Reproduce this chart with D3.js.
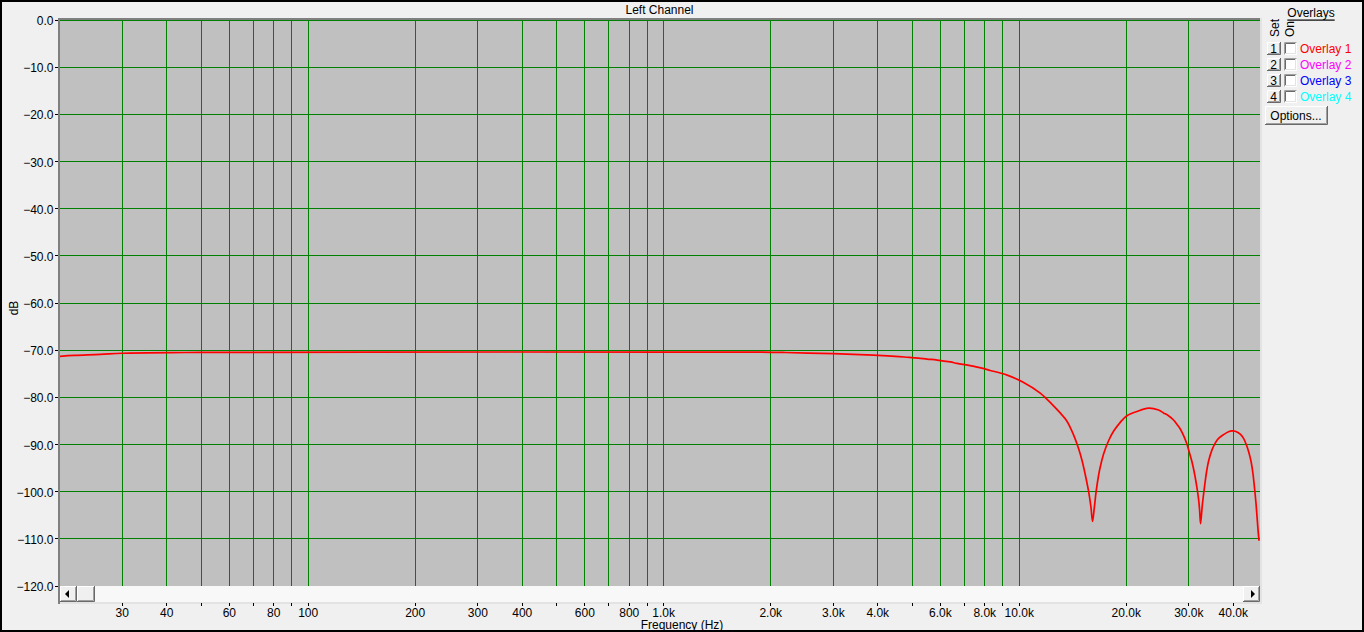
<!DOCTYPE html>
<html>
<head>
<meta charset="utf-8">
<script src="https://cdn.jsdelivr.net/npm/d3@7"></script>
<style>
  html, body { margin: 0; padding: 0; background: #f0f0f0; }
  svg { display: block; }
  text { font-family: "Liberation Sans", Arial, sans-serif; font-size: 12px; fill: #000; }
</style>
</head>
<body>
<svg id="chart" width="1364" height="632"></svg>
<script>
// ---- data ----
const freqHz = [20, 22, 26, 30, 45, 70, 150, 1000, 1800, 2200, 3000, 3570, 4010, 4480, 4840, 5200, 5510, 5880, 6400, 6690, 7420, 8290, 9250, 10260, 11460, 11960, 12490, 13040, 13610, 14210, 14680, 15010, 15330, 15660, 15910, 16080, 16260, 16470, 16830, 17270, 17840, 18420, 19240, 20090, 21430, 23110, 24660, 25460, 26300, 27170, 27760, 28380, 29000, 29630, 30130, 30600, 30940, 31270, 31610, 31950, 32160, 32370, 32720, 33000, 33370, 33730, 34100, 34830, 35590, 36370, 37560, 38800, 39660, 40520, 41860, 42760, 43520, 44180, 44860, 45450, 45920, 46340, 46650, 46950, 47260];
const levelDb = [-71.3, -71.1, -70.9, -70.65, -70.5, -70.45, -70.4, -70.4, -70.4, -70.5, -70.75, -70.95, -71.1, -71.3, -71.5, -71.7, -71.9, -72.1, -72.5, -72.8, -73.4, -74.3, -75.3, -76.8, -79.1, -80.4, -81.8, -83.3, -85.0, -87.9, -90.8, -93.3, -96.3, -99.8, -103.2, -106.3, -103.5, -99.8, -95.4, -92.0, -89.2, -87.2, -85.3, -83.9, -83.0, -82.3, -82.7, -83.3, -83.9, -84.8, -85.7, -86.7, -88.1, -89.9, -91.8, -93.6, -95.2, -97.0, -99.1, -101.6, -103.8, -106.8, -103.0, -100.6, -97.7, -95.3, -93.5, -91.2, -89.7, -88.7, -87.9, -87.3, -87.1, -87.2, -87.8, -88.7, -90.0, -91.5, -93.5, -96.2, -99.3, -102.4, -105.2, -108.0, -110.4];

const yTickValues = [0, -10, -20, -30, -40, -50, -60, -70, -80, -90, -100, -110, -120];
const xGridFreqs = [30, 40, 50, 60, 70, 80, 90, 100, 200, 300, 400, 500, 600, 700, 800, 900, 1000, 2000, 3000, 4000, 5000, 6000, 7000, 8000, 9000, 10000, 20000, 30000, 40000];
const xLabelFreqs = [30, 40, 60, 80, 100, 200, 300, 400, 600, 800, 1000, 2000, 3000, 4000, 6000, 8000, 10000, 20000, 30000, 40000];
const xLabelTexts = ["30", "40", "60", "80", "100", "200", "300", "400", "600", "800", "1.0k", "2.0k", "3.0k", "4.0k", "6.0k", "8.0k", "10.0k", "20.0k", "30.0k", "40.0k"];

const overlayNames = ["Overlay 1", "Overlay 2", "Overlay 3", "Overlay 4"];
const overlayColors = ["#ff0000", "#ff00ff", "#0000ff", "#00ffff"];
const overlaySetLabels = ["1", "2", "3", "4"];

const titleText = "Left Channel";
const xAxisTitle = "Frequency (Hz)";
const yAxisTitle = "dB";

// ---- layout ----
const svg = d3.select("#chart");
const W = 1364, H = 632;
const plotL = 60, plotR = 1260, plotT = 20, plotB = 586;

const x = d3.scaleLog().domain([20, 48000]).range([59.7, 1261.4]);
const y = d3.scaleLinear().domain([-120, 0]).range([586, 20]);
const px = v => Math.floor(v) + 0.5;

// outer border
svg.append("rect").attr("x", 1).attr("y", 1).attr("width", W - 2).attr("height", H - 2)
  .attr("fill", "#f0f0f0").attr("stroke", "#000").attr("stroke-width", 2);

// title
svg.append("text").attr("x", 659.5).attr("y", 10).attr("text-anchor", "middle")
  .attr("dominant-baseline", "central").text(titleText);

// plot frame (dark top/left edge)
svg.append("rect").attr("x", 58).attr("y", 18).attr("width", plotR - 58).attr("height", 2).attr("fill", "#808080");
svg.append("rect").attr("x", 58).attr("y", 18).attr("width", 2).attr("height", 604 - 18).attr("fill", "#808080");
// light right/bottom edge
svg.append("rect").attr("x", plotR).attr("y", 18).attr("width", 2).attr("height", 604 - 18).attr("fill", "#e3e3e3");
svg.append("rect").attr("x", 60).attr("y", 602).attr("width", plotR - 58).attr("height", 2).attr("fill", "#e3e3e3");

// plot background
svg.append("rect").attr("x", plotL).attr("y", plotT).attr("width", plotR - plotL).attr("height", plotB - plotT)
  .attr("fill", "#c0c0c0");

// grid
const grid = svg.append("g");
grid.selectAll("line.h").data(yTickValues.filter(v => v > -120)).enter().append("line")
  .attr("x1", plotL).attr("x2", plotR)
  .attr("y1", d => px(y(d))).attr("y2", d => px(y(d)))
  .attr("stroke", "#008000").attr("stroke-width", 1);
grid.selectAll("line.v").data(xGridFreqs).enter().append("line")
  .attr("x1", d => px(x(d))).attr("x2", d => px(x(d)))
  .attr("y1", plotT).attr("y2", plotB)
  .attr("stroke", "#008000").attr("stroke-width", 1);

// curve
svg.append("clipPath").attr("id", "clip").append("rect")
  .attr("x", plotL).attr("y", plotT).attr("width", plotR - plotL).attr("height", plotB - plotT);
const pts = freqHz.map((f, i) => [f, levelDb[i]]);
const line = d3.line().x(d => x(d[0])).y(d => y(d[1])).curve(d3.curveCatmullRom.alpha(0.5));
svg.append("path").attr("clip-path", "url(#clip)").datum(pts).attr("d", line)
  .attr("fill", "none").attr("stroke", "#ff0000").attr("stroke-width", 1.7);

// y axis labels & ticks
const yAxisG = svg.append("g");
yAxisG.selectAll("line").data(yTickValues).enter().append("line")
  .attr("x1", 55).attr("x2", 58)
  .attr("y1", d => px(y(d))).attr("y2", d => px(y(d)))
  .attr("stroke", "#000");
yAxisG.selectAll("text").data(yTickValues).enter().append("text")
  .attr("x", 53.5).attr("y", d => y(d) + 1).attr("text-anchor", "end")
  .attr("dominant-baseline", "central").text(d => d3.format(".1f")(d));

svg.append("text").attr("transform", "translate(14,308) rotate(-90)")
  .attr("text-anchor", "middle").attr("dominant-baseline", "central").text(yAxisTitle);

// scrollbar
svg.append("rect").attr("x", plotL).attr("y", 586).attr("width", plotR - plotL).attr("height", 16).attr("fill", "#f8f8f8");
function button3d(g, bx, by, bw, bh) {
  g.append("rect").attr("x", bx).attr("y", by).attr("width", bw).attr("height", bh).attr("fill", "#f0f0f0");
  g.append("path").attr("d", `M${bx + 0.5},${by + bh - 1}V${by + 0.5}H${bx + bw - 1}`).attr("stroke", "#ffffff").attr("fill", "none");
  g.append("path").attr("d", `M${bx},${by + bh - 0.5}H${bx + bw - 0.5}V${by}`).attr("stroke", "#696969").attr("fill", "none");
  g.append("path").attr("d", `M${bx + 1},${by + bh - 1.5}H${bx + bw - 1.5}V${by + 1}`).attr("stroke", "#a0a0a0").attr("fill", "none");
}
const sb = svg.append("g");
button3d(sb, 60, 586, 17, 16);
sb.append("path").attr("d", "M65,594L69,590V598Z").attr("fill", "#000");
button3d(sb, 77, 586, 18, 16);
button3d(sb, 1243, 586, 17, 16);
sb.append("path").attr("d", "M1255,594L1251,590V598Z").attr("fill", "#000");

// x axis ticks & labels
const xAxisG = svg.append("g");
xAxisG.selectAll("line").data(xGridFreqs).enter().append("line")
  .attr("x1", d => px(x(d))).attr("x2", d => px(x(d)))
  .attr("y1", 603).attr("y2", 606).attr("stroke", "#000");
xAxisG.selectAll("text").data(xLabelFreqs).enter().append("text")
  .attr("x", d => x(d)).attr("y", 612.5).attr("text-anchor", "middle")
  .attr("dominant-baseline", "central").text((d, i) => xLabelTexts[i]);
svg.append("text").attr("x", 682).attr("y", 625).attr("text-anchor", "middle")
  .attr("dominant-baseline", "central").text(xAxisTitle);

// overlay panel
const panel = svg.append("g");
panel.append("text").attr("x", 1311).attr("y", 12.5).attr("text-anchor", "middle")
  .attr("dominant-baseline", "central").attr("text-decoration", "underline").text("Overlays");
panel.append("text").attr("transform", "translate(1274.5,37) rotate(-90)")
  .attr("dominant-baseline", "central").text("Set");
panel.append("text").attr("transform", "translate(1290,37) rotate(-90)")
  .attr("dominant-baseline", "central").text("On");

overlayNames.forEach((name, i) => {
  const ry = 42 + i * 16;
  const g = panel.append("g");
  button3d(g, 1267, ry, 14, 13);
  g.append("text").attr("x", 1273.5).attr("y", ry + 6.5).attr("text-anchor", "middle")
    .attr("dominant-baseline", "central").text(overlaySetLabels[i]);
  // checkbox
  g.append("rect").attr("x", 1284).attr("y", ry).attr("width", 13).attr("height", 13).attr("fill", "#ffffff");
  g.append("path").attr("d", `M${1284.5},${ry + 12.5}V${ry + 0.5}H${1296.5}`).attr("stroke", "#a0a0a0").attr("fill", "none");
  g.append("path").attr("d", `M${1285.5},${ry + 11.5}V${ry + 1.5}H${1295.5}`).attr("stroke", "#696969").attr("fill", "none");
  g.append("path").attr("d", `M${1285},${ry + 11.5}H${1295.5}V${ry + 1}`).attr("stroke", "#e3e3e3").attr("fill", "none");
  g.append("text").attr("x", 1300).attr("y", ry + 6.5).attr("dominant-baseline", "central")
    .style("fill", overlayColors[i]).text(name);
});

const opt = panel.append("g");
button3d(opt, 1265, 106, 63, 19);
opt.append("text").attr("x", 1296).attr("y", 115.5).attr("text-anchor", "middle")
  .attr("dominant-baseline", "central").text("Options...");
</script>
</body>
</html>
